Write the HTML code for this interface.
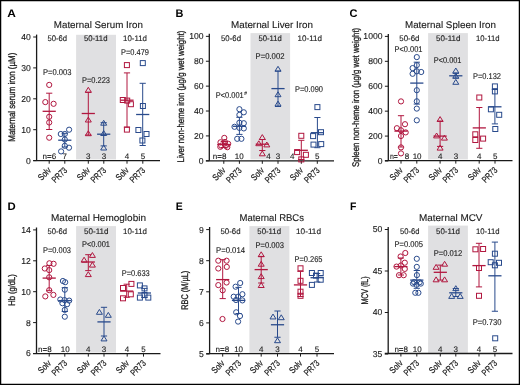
<!DOCTYPE html><html><head><meta charset="utf-8"><style>html,body{margin:0;padding:0;background:#fff;}svg{display:block;will-change:transform;}</style></head><body>
<svg width="520" height="385" viewBox="0 0 520 385" text-rendering="geometricPrecision" font-family='"Liberation Sans", sans-serif'>
<rect x="0" y="0" width="520" height="385" fill="#fff"/>
<rect x="76.1" y="34.8" width="39.9" height="124.6" fill="#e0e0e2"/>
<rect x="250.5" y="33.1" width="39.6" height="126.3" fill="#e0e0e2"/>
<rect x="428.1" y="33.1" width="39.8" height="126.3" fill="#e0e0e2"/>
<rect x="76.1" y="226.1" width="39.9" height="126.5" fill="#e0e0e2"/>
<rect x="249.4" y="226.1" width="40.0" height="126.8" fill="#e0e0e2"/>
<rect x="428.1" y="225.6" width="39.8" height="127.3" fill="#e0e0e2"/>
<text x="7.3" y="16.7" font-size="11" font-weight="bold" fill="#000" textLength="8.6" lengthAdjust="spacingAndGlyphs">A</text>
<text x="175.6" y="16.7" font-size="11" font-weight="bold" fill="#000" textLength="7.9" lengthAdjust="spacingAndGlyphs">B</text>
<text x="349.6" y="16.7" font-size="11" font-weight="bold" fill="#000" textLength="8.0" lengthAdjust="spacingAndGlyphs">C</text>
<text x="7.6" y="209.7" font-size="11" font-weight="bold" fill="#000" textLength="8.2" lengthAdjust="spacingAndGlyphs">D</text>
<text x="175.8" y="209.7" font-size="11" font-weight="bold" fill="#000" textLength="7.0" lengthAdjust="spacingAndGlyphs">E</text>
<text x="350.0" y="209.7" font-size="11" font-weight="bold" fill="#000" textLength="6.4" lengthAdjust="spacingAndGlyphs">F</text>
<text x="53.8" y="27.9" font-size="9.7" textLength="89.2" lengthAdjust="spacingAndGlyphs" fill="#1a1a1a" stroke="#1a1a1a" stroke-width="0.12">Maternal Serum Iron</text>
<text x="231" y="27.6" font-size="9.7" textLength="82" lengthAdjust="spacingAndGlyphs" fill="#1a1a1a" stroke="#1a1a1a" stroke-width="0.12">Maternal Liver Iron</text>
<text x="405" y="27.6" font-size="9.7" textLength="91" lengthAdjust="spacingAndGlyphs" fill="#1a1a1a" stroke="#1a1a1a" stroke-width="0.12">Maternal Spleen Iron</text>
<text x="51" y="221.2" font-size="9.7" textLength="95" lengthAdjust="spacingAndGlyphs" fill="#1a1a1a" stroke="#1a1a1a" stroke-width="0.12">Maternal Hemoglobin</text>
<text x="239.5" y="221.2" font-size="9.7" textLength="64.5" lengthAdjust="spacingAndGlyphs" fill="#1a1a1a" stroke="#1a1a1a" stroke-width="0.12">Maternal RBCs</text>
<text x="419" y="221.2" font-size="9.7" textLength="63.5" lengthAdjust="spacingAndGlyphs" fill="#1a1a1a" stroke="#1a1a1a" stroke-width="0.12">Maternal MCV</text>
<text transform="translate(15.4,141.7) rotate(-90)" x="0" y="0" font-size="9.6" textLength="89" lengthAdjust="spacingAndGlyphs" fill="#1a1a1a" stroke="#1a1a1a" stroke-width="0.3">Maternal serum iron (µM)</text>
<text transform="translate(183.8,162.4) rotate(-90)" x="0" y="0" font-size="9.6" textLength="131.7" lengthAdjust="spacingAndGlyphs" fill="#1a1a1a" stroke="#1a1a1a" stroke-width="0.3">Liver non-heme iron (µg/g wet weight)</text>
<text transform="translate(359,167) rotate(-90)" x="0" y="0" font-size="9.6" textLength="139.2" lengthAdjust="spacingAndGlyphs" fill="#1a1a1a" stroke="#1a1a1a" stroke-width="0.3">Spleen non-heme iron (µg/g wet weight)</text>
<text transform="translate(15.2,305.7) rotate(-90)" x="0" y="0" font-size="9.6" textLength="31.5" lengthAdjust="spacingAndGlyphs" fill="#1a1a1a" stroke="#1a1a1a" stroke-width="0.3">Hb (g/dL)</text>
<text transform="translate(188.4,309.8) rotate(-90)" x="0" y="0" font-size="9.6" textLength="39" lengthAdjust="spacingAndGlyphs" fill="#1a1a1a" stroke="#1a1a1a" stroke-width="0.3">RBC (M/µL)</text>
<text transform="translate(367.6,304.6) rotate(-90)" x="0" y="0" font-size="9.6" textLength="28.2" lengthAdjust="spacingAndGlyphs" fill="#1a1a1a" stroke="#1a1a1a" stroke-width="0.3">MCV (fL)</text>
<text x="47.5" y="41.3" font-size="8.1" textLength="19.6" lengthAdjust="spacingAndGlyphs" fill="#1a1a1a" stroke="#1a1a1a" stroke-width="0.12">50-6d</text>
<text x="83.9" y="41.3" font-size="8.1" textLength="23.6" lengthAdjust="spacingAndGlyphs" fill="#1a1a1a" stroke="#1a1a1a" stroke-width="0.12">50-11d</text>
<text x="123" y="41.3" font-size="8.1" textLength="24" lengthAdjust="spacingAndGlyphs" fill="#1a1a1a" stroke="#1a1a1a" stroke-width="0.12">10-11d</text>
<text x="221" y="40.8" font-size="8.1" textLength="20" lengthAdjust="spacingAndGlyphs" fill="#1a1a1a" stroke="#1a1a1a" stroke-width="0.12">50-6d</text>
<text x="258.5" y="40.8" font-size="8.1" textLength="23.3" lengthAdjust="spacingAndGlyphs" fill="#1a1a1a" stroke="#1a1a1a" stroke-width="0.12">50-11d</text>
<text x="297.5" y="40.8" font-size="8.1" textLength="24.5" lengthAdjust="spacingAndGlyphs" fill="#1a1a1a" stroke="#1a1a1a" stroke-width="0.12">10-11d</text>
<text x="399.3" y="40.8" font-size="8.1" textLength="20.2" lengthAdjust="spacingAndGlyphs" fill="#1a1a1a" stroke="#1a1a1a" stroke-width="0.12">50-6d</text>
<text x="436.1" y="40.8" font-size="8.1" textLength="24.3" lengthAdjust="spacingAndGlyphs" fill="#1a1a1a" stroke="#1a1a1a" stroke-width="0.12">50-11d</text>
<text x="476" y="40.8" font-size="8.1" textLength="23.5" lengthAdjust="spacingAndGlyphs" fill="#1a1a1a" stroke="#1a1a1a" stroke-width="0.12">10-11d</text>
<text x="47.5" y="233.7" font-size="8.1" textLength="19.5" lengthAdjust="spacingAndGlyphs" fill="#1a1a1a" stroke="#1a1a1a" stroke-width="0.12">50-6d</text>
<text x="84" y="233.7" font-size="8.1" textLength="24.5" lengthAdjust="spacingAndGlyphs" fill="#1a1a1a" stroke="#1a1a1a" stroke-width="0.12">50-11d</text>
<text x="123" y="233.7" font-size="8.1" textLength="24" lengthAdjust="spacingAndGlyphs" fill="#1a1a1a" stroke="#1a1a1a" stroke-width="0.12">10-11d</text>
<text x="220.5" y="233.7" font-size="8.1" textLength="20" lengthAdjust="spacingAndGlyphs" fill="#1a1a1a" stroke="#1a1a1a" stroke-width="0.12">50-6d</text>
<text x="257.3" y="233.7" font-size="8.1" textLength="23.7" lengthAdjust="spacingAndGlyphs" fill="#1a1a1a" stroke="#1a1a1a" stroke-width="0.12">50-11d</text>
<text x="296" y="233.7" font-size="8.1" textLength="25" lengthAdjust="spacingAndGlyphs" fill="#1a1a1a" stroke="#1a1a1a" stroke-width="0.12">10-11d</text>
<text x="400" y="233.5" font-size="8.1" textLength="19.5" lengthAdjust="spacingAndGlyphs" fill="#1a1a1a" stroke="#1a1a1a" stroke-width="0.12">50-6d</text>
<text x="436" y="233.5" font-size="8.1" textLength="24" lengthAdjust="spacingAndGlyphs" fill="#1a1a1a" stroke="#1a1a1a" stroke-width="0.12">50-11d</text>
<text x="476" y="233.5" font-size="8.1" textLength="23.5" lengthAdjust="spacingAndGlyphs" fill="#1a1a1a" stroke="#1a1a1a" stroke-width="0.12">10-11d</text>
<text x="43" y="74.9" font-size="8.4" textLength="28.5" lengthAdjust="spacingAndGlyphs" fill="#1a1a1a" stroke="#1a1a1a" stroke-width="0.12">P=0.003</text>
<text x="82" y="82.7" font-size="8.4" textLength="28" lengthAdjust="spacingAndGlyphs" fill="#1a1a1a" stroke="#1a1a1a" stroke-width="0.12">P=0.223</text>
<text x="121" y="54.7" font-size="8.4" textLength="28" lengthAdjust="spacingAndGlyphs" fill="#1a1a1a" stroke="#1a1a1a" stroke-width="0.12">P=0.479</text>
<text x="215.7" y="97.9" font-size="8.4" textLength="28" lengthAdjust="spacingAndGlyphs" fill="#1a1a1a" stroke="#1a1a1a" stroke-width="0.12">P&lt;0.001</text>
<text x="244.2" y="94.6" font-size="5" textLength="2.7" lengthAdjust="spacingAndGlyphs" fill="#1a1a1a" stroke="#1a1a1a" stroke-width="0.12">#</text>
<text x="255.5" y="58.7" font-size="8.4" textLength="29" lengthAdjust="spacingAndGlyphs" fill="#1a1a1a" stroke="#1a1a1a" stroke-width="0.12">P=0.002</text>
<text x="295" y="91.7" font-size="8.4" textLength="28" lengthAdjust="spacingAndGlyphs" fill="#1a1a1a" stroke="#1a1a1a" stroke-width="0.12">P=0.090</text>
<text x="394.5" y="51.7" font-size="8.4" textLength="28" lengthAdjust="spacingAndGlyphs" fill="#1a1a1a" stroke="#1a1a1a" stroke-width="0.12">P&lt;0.001</text>
<text x="433.7" y="63" font-size="8.4" textLength="27.8" lengthAdjust="spacingAndGlyphs" fill="#1a1a1a" stroke="#1a1a1a" stroke-width="0.12">P&lt;0.001</text>
<text x="473" y="78.7" font-size="8.4" textLength="28" lengthAdjust="spacingAndGlyphs" fill="#1a1a1a" stroke="#1a1a1a" stroke-width="0.12">P=0.132</text>
<text x="43" y="252.7" font-size="8.4" textLength="28" lengthAdjust="spacingAndGlyphs" fill="#1a1a1a" stroke="#1a1a1a" stroke-width="0.12">P=0.003</text>
<text x="82" y="247.2" font-size="8.4" textLength="28" lengthAdjust="spacingAndGlyphs" fill="#1a1a1a" stroke="#1a1a1a" stroke-width="0.12">P&lt;0.001</text>
<text x="121.7" y="275.7" font-size="8.4" textLength="28.1" lengthAdjust="spacingAndGlyphs" fill="#1a1a1a" stroke="#1a1a1a" stroke-width="0.12">P=0.633</text>
<text x="216" y="252.7" font-size="8.4" textLength="29" lengthAdjust="spacingAndGlyphs" fill="#1a1a1a" stroke="#1a1a1a" stroke-width="0.12">P=0.014</text>
<text x="255.5" y="247.7" font-size="8.4" textLength="28.5" lengthAdjust="spacingAndGlyphs" fill="#1a1a1a" stroke="#1a1a1a" stroke-width="0.12">P=0.003</text>
<text x="294.5" y="261.7" font-size="8.4" textLength="28" lengthAdjust="spacingAndGlyphs" fill="#1a1a1a" stroke="#1a1a1a" stroke-width="0.12">P=0.265</text>
<text x="394.5" y="246.7" font-size="8.4" textLength="28.5" lengthAdjust="spacingAndGlyphs" fill="#1a1a1a" stroke="#1a1a1a" stroke-width="0.12">P=0.005</text>
<text x="433.7" y="256" font-size="8.4" textLength="28.6" lengthAdjust="spacingAndGlyphs" fill="#1a1a1a" stroke="#1a1a1a" stroke-width="0.12">P=0.012</text>
<text x="472.7" y="325" font-size="8.4" textLength="28.7" lengthAdjust="spacingAndGlyphs" fill="#1a1a1a" stroke="#1a1a1a" stroke-width="0.12">P=0.730</text>
<path d="M36.6 34.6V160.7" stroke="#1a1a1a" stroke-width="1.3" fill="none"/>
<path d="M33.2 160.7H160" stroke="#1a1a1a" stroke-width="1.3" fill="none"/>
<path d="M33.2 160.6H36.6" stroke="#1a1a1a" stroke-width="1" fill="none"/>
<text x="26.02" y="163.5" font-size="8.6" textLength="4.78" lengthAdjust="spacingAndGlyphs" fill="#1a1a1a" stroke="#1a1a1a" stroke-width="0.12">0</text>
<path d="M33.2 129.7H36.6" stroke="#1a1a1a" stroke-width="1" fill="none"/>
<text x="21.24" y="132.6" font-size="8.6" textLength="9.56" lengthAdjust="spacingAndGlyphs" fill="#1a1a1a" stroke="#1a1a1a" stroke-width="0.12">10</text>
<path d="M33.2 98.8H36.6" stroke="#1a1a1a" stroke-width="1" fill="none"/>
<text x="21.24" y="101.7" font-size="8.6" textLength="9.56" lengthAdjust="spacingAndGlyphs" fill="#1a1a1a" stroke="#1a1a1a" stroke-width="0.12">20</text>
<path d="M33.2 67.9H36.6" stroke="#1a1a1a" stroke-width="1" fill="none"/>
<text x="21.24" y="70.8" font-size="8.6" textLength="9.56" lengthAdjust="spacingAndGlyphs" fill="#1a1a1a" stroke="#1a1a1a" stroke-width="0.12">30</text>
<path d="M33.2 37H36.6" stroke="#1a1a1a" stroke-width="1" fill="none"/>
<text x="21.24" y="39.9" font-size="8.6" textLength="9.56" lengthAdjust="spacingAndGlyphs" fill="#1a1a1a" stroke="#1a1a1a" stroke-width="0.12">40</text>
<path d="M209.3 33.8V160.8" stroke="#1a1a1a" stroke-width="1.3" fill="none"/>
<path d="M205.9 160.8H334" stroke="#1a1a1a" stroke-width="1.3" fill="none"/>
<path d="M205.9 160.8H209.3" stroke="#1a1a1a" stroke-width="1" fill="none"/>
<text x="198.72" y="163.7" font-size="8.6" textLength="4.78" lengthAdjust="spacingAndGlyphs" fill="#1a1a1a" stroke="#1a1a1a" stroke-width="0.12">0</text>
<path d="M205.9 135.91H209.3" stroke="#1a1a1a" stroke-width="1" fill="none"/>
<text x="193.94" y="138.81" font-size="8.6" textLength="9.56" lengthAdjust="spacingAndGlyphs" fill="#1a1a1a" stroke="#1a1a1a" stroke-width="0.12">20</text>
<path d="M205.9 111.02H209.3" stroke="#1a1a1a" stroke-width="1" fill="none"/>
<text x="193.94" y="113.92" font-size="8.6" textLength="9.56" lengthAdjust="spacingAndGlyphs" fill="#1a1a1a" stroke="#1a1a1a" stroke-width="0.12">40</text>
<path d="M205.9 86.13H209.3" stroke="#1a1a1a" stroke-width="1" fill="none"/>
<text x="193.94" y="89.03" font-size="8.6" textLength="9.56" lengthAdjust="spacingAndGlyphs" fill="#1a1a1a" stroke="#1a1a1a" stroke-width="0.12">60</text>
<path d="M205.9 61.24H209.3" stroke="#1a1a1a" stroke-width="1" fill="none"/>
<text x="193.94" y="64.14" font-size="8.6" textLength="9.56" lengthAdjust="spacingAndGlyphs" fill="#1a1a1a" stroke="#1a1a1a" stroke-width="0.12">80</text>
<path d="M205.9 36.35H209.3" stroke="#1a1a1a" stroke-width="1" fill="none"/>
<text x="189.16" y="39.25" font-size="8.6" textLength="14.34" lengthAdjust="spacingAndGlyphs" fill="#1a1a1a" stroke="#1a1a1a" stroke-width="0.12">100</text>
<path d="M388.3 34V160.6" stroke="#1a1a1a" stroke-width="1.3" fill="none"/>
<path d="M384.9 160.6H512.5" stroke="#1a1a1a" stroke-width="1.3" fill="none"/>
<path d="M384.9 161H388.3" stroke="#1a1a1a" stroke-width="1" fill="none"/>
<text x="377.72" y="163.9" font-size="8.6" textLength="4.78" lengthAdjust="spacingAndGlyphs" fill="#1a1a1a" stroke="#1a1a1a" stroke-width="0.12">0</text>
<path d="M384.9 136.08H388.3" stroke="#1a1a1a" stroke-width="1" fill="none"/>
<text x="368.16" y="138.98" font-size="8.6" textLength="14.34" lengthAdjust="spacingAndGlyphs" fill="#1a1a1a" stroke="#1a1a1a" stroke-width="0.12">200</text>
<path d="M384.9 111.16H388.3" stroke="#1a1a1a" stroke-width="1" fill="none"/>
<text x="368.16" y="114.06" font-size="8.6" textLength="14.34" lengthAdjust="spacingAndGlyphs" fill="#1a1a1a" stroke="#1a1a1a" stroke-width="0.12">400</text>
<path d="M384.9 86.24H388.3" stroke="#1a1a1a" stroke-width="1" fill="none"/>
<text x="368.16" y="89.14" font-size="8.6" textLength="14.34" lengthAdjust="spacingAndGlyphs" fill="#1a1a1a" stroke="#1a1a1a" stroke-width="0.12">600</text>
<path d="M384.9 61.32H388.3" stroke="#1a1a1a" stroke-width="1" fill="none"/>
<text x="368.16" y="64.22" font-size="8.6" textLength="14.34" lengthAdjust="spacingAndGlyphs" fill="#1a1a1a" stroke="#1a1a1a" stroke-width="0.12">800</text>
<path d="M384.9 36.4H388.3" stroke="#1a1a1a" stroke-width="1" fill="none"/>
<text x="363.37" y="39.3" font-size="8.6" textLength="19.13" lengthAdjust="spacingAndGlyphs" fill="#1a1a1a" stroke="#1a1a1a" stroke-width="0.12">1000</text>
<path d="M36.5 227.5V353.7" stroke="#1a1a1a" stroke-width="1.3" fill="none"/>
<path d="M33.1 353.7H160.5" stroke="#1a1a1a" stroke-width="1.3" fill="none"/>
<path d="M33.1 353.5H36.5" stroke="#1a1a1a" stroke-width="1" fill="none"/>
<text x="25.92" y="356.4" font-size="8.6" textLength="4.78" lengthAdjust="spacingAndGlyphs" fill="#1a1a1a" stroke="#1a1a1a" stroke-width="0.12">6</text>
<path d="M33.1 322.6H36.5" stroke="#1a1a1a" stroke-width="1" fill="none"/>
<text x="25.92" y="325.5" font-size="8.6" textLength="4.78" lengthAdjust="spacingAndGlyphs" fill="#1a1a1a" stroke="#1a1a1a" stroke-width="0.12">8</text>
<path d="M33.1 291.7H36.5" stroke="#1a1a1a" stroke-width="1" fill="none"/>
<text x="21.14" y="294.6" font-size="8.6" textLength="9.56" lengthAdjust="spacingAndGlyphs" fill="#1a1a1a" stroke="#1a1a1a" stroke-width="0.12">10</text>
<path d="M33.1 260.8H36.5" stroke="#1a1a1a" stroke-width="1" fill="none"/>
<text x="21.14" y="263.7" font-size="8.6" textLength="9.56" lengthAdjust="spacingAndGlyphs" fill="#1a1a1a" stroke="#1a1a1a" stroke-width="0.12">12</text>
<path d="M33.1 229.9H36.5" stroke="#1a1a1a" stroke-width="1" fill="none"/>
<text x="21.14" y="232.8" font-size="8.6" textLength="9.56" lengthAdjust="spacingAndGlyphs" fill="#1a1a1a" stroke="#1a1a1a" stroke-width="0.12">14</text>
<path d="M209.6 227V353.6" stroke="#1a1a1a" stroke-width="1.3" fill="none"/>
<path d="M206.2 353.6H334" stroke="#1a1a1a" stroke-width="1.3" fill="none"/>
<path d="M206.2 354H209.6" stroke="#1a1a1a" stroke-width="1" fill="none"/>
<text x="199.02" y="356.9" font-size="8.6" textLength="4.78" lengthAdjust="spacingAndGlyphs" fill="#1a1a1a" stroke="#1a1a1a" stroke-width="0.12">5</text>
<path d="M206.2 322.9H209.6" stroke="#1a1a1a" stroke-width="1" fill="none"/>
<text x="199.02" y="325.8" font-size="8.6" textLength="4.78" lengthAdjust="spacingAndGlyphs" fill="#1a1a1a" stroke="#1a1a1a" stroke-width="0.12">6</text>
<path d="M206.2 291.8H209.6" stroke="#1a1a1a" stroke-width="1" fill="none"/>
<text x="199.02" y="294.7" font-size="8.6" textLength="4.78" lengthAdjust="spacingAndGlyphs" fill="#1a1a1a" stroke="#1a1a1a" stroke-width="0.12">7</text>
<path d="M206.2 260.7H209.6" stroke="#1a1a1a" stroke-width="1" fill="none"/>
<text x="199.02" y="263.6" font-size="8.6" textLength="4.78" lengthAdjust="spacingAndGlyphs" fill="#1a1a1a" stroke="#1a1a1a" stroke-width="0.12">8</text>
<path d="M206.2 229.6H209.6" stroke="#1a1a1a" stroke-width="1" fill="none"/>
<text x="199.02" y="232.5" font-size="8.6" textLength="4.78" lengthAdjust="spacingAndGlyphs" fill="#1a1a1a" stroke="#1a1a1a" stroke-width="0.12">9</text>
<path d="M388.2 227V353.5" stroke="#1a1a1a" stroke-width="1.3" fill="none"/>
<path d="M384.8 353.5H512.5" stroke="#1a1a1a" stroke-width="1.3" fill="none"/>
<path d="M384.8 354H388.2" stroke="#1a1a1a" stroke-width="1" fill="none"/>
<text x="372.84" y="356.9" font-size="8.6" textLength="9.56" lengthAdjust="spacingAndGlyphs" fill="#1a1a1a" stroke="#1a1a1a" stroke-width="0.12">35</text>
<path d="M384.8 312.5H388.2" stroke="#1a1a1a" stroke-width="1" fill="none"/>
<text x="372.84" y="315.4" font-size="8.6" textLength="9.56" lengthAdjust="spacingAndGlyphs" fill="#1a1a1a" stroke="#1a1a1a" stroke-width="0.12">40</text>
<path d="M384.8 271H388.2" stroke="#1a1a1a" stroke-width="1" fill="none"/>
<text x="372.84" y="273.9" font-size="8.6" textLength="9.56" lengthAdjust="spacingAndGlyphs" fill="#1a1a1a" stroke="#1a1a1a" stroke-width="0.12">45</text>
<path d="M384.8 229.5H388.2" stroke="#1a1a1a" stroke-width="1" fill="none"/>
<text x="372.84" y="232.4" font-size="8.6" textLength="9.56" lengthAdjust="spacingAndGlyphs" fill="#1a1a1a" stroke="#1a1a1a" stroke-width="0.12">50</text>
<path d="M49.2 160.7V163.7M64.8 160.7V163.7M88.3 160.7V163.7M103.8 160.7V163.7M127 160.7V163.7M142.8 160.7V163.7" stroke="#1a1a1a" stroke-width="1" fill="none"/>
<text transform="translate(51.6,170.9) rotate(-45)" x="-14.4" y="0" font-size="9" textLength="14.4" lengthAdjust="spacingAndGlyphs" fill="#1a1a1a" stroke="#1a1a1a" stroke-width="0.22">Solv</text>
<text transform="translate(67.7,170.9) rotate(-45)" x="-17.6" y="0" font-size="9" textLength="17.6" lengthAdjust="spacingAndGlyphs" fill="#1a1a1a" stroke="#1a1a1a" stroke-width="0.22">PR73</text>
<text transform="translate(90.7,170.9) rotate(-45)" x="-14.4" y="0" font-size="9" textLength="14.4" lengthAdjust="spacingAndGlyphs" fill="#1a1a1a" stroke="#1a1a1a" stroke-width="0.22">Solv</text>
<text transform="translate(106.7,170.9) rotate(-45)" x="-17.6" y="0" font-size="9" textLength="17.6" lengthAdjust="spacingAndGlyphs" fill="#1a1a1a" stroke="#1a1a1a" stroke-width="0.22">PR73</text>
<text transform="translate(129.4,170.9) rotate(-45)" x="-14.4" y="0" font-size="9" textLength="14.4" lengthAdjust="spacingAndGlyphs" fill="#1a1a1a" stroke="#1a1a1a" stroke-width="0.22">Solv</text>
<text transform="translate(145.7,170.9) rotate(-45)" x="-17.6" y="0" font-size="9" textLength="17.6" lengthAdjust="spacingAndGlyphs" fill="#1a1a1a" stroke="#1a1a1a" stroke-width="0.22">PR73</text>
<path d="M223.8 160.8V163.8M239.4 160.8V163.8M262.3 160.8V163.8M278 160.8V163.8M301.3 160.8V163.8M317.3 160.8V163.8" stroke="#1a1a1a" stroke-width="1" fill="none"/>
<text transform="translate(226.2,171) rotate(-45)" x="-14.4" y="0" font-size="9" textLength="14.4" lengthAdjust="spacingAndGlyphs" fill="#1a1a1a" stroke="#1a1a1a" stroke-width="0.22">Solv</text>
<text transform="translate(242.3,171) rotate(-45)" x="-17.6" y="0" font-size="9" textLength="17.6" lengthAdjust="spacingAndGlyphs" fill="#1a1a1a" stroke="#1a1a1a" stroke-width="0.22">PR73</text>
<text transform="translate(264.7,171) rotate(-45)" x="-14.4" y="0" font-size="9" textLength="14.4" lengthAdjust="spacingAndGlyphs" fill="#1a1a1a" stroke="#1a1a1a" stroke-width="0.22">Solv</text>
<text transform="translate(280.9,171) rotate(-45)" x="-17.6" y="0" font-size="9" textLength="17.6" lengthAdjust="spacingAndGlyphs" fill="#1a1a1a" stroke="#1a1a1a" stroke-width="0.22">PR73</text>
<text transform="translate(303.7,171) rotate(-45)" x="-14.4" y="0" font-size="9" textLength="14.4" lengthAdjust="spacingAndGlyphs" fill="#1a1a1a" stroke="#1a1a1a" stroke-width="0.22">Solv</text>
<text transform="translate(320.2,171) rotate(-45)" x="-17.6" y="0" font-size="9" textLength="17.6" lengthAdjust="spacingAndGlyphs" fill="#1a1a1a" stroke="#1a1a1a" stroke-width="0.22">PR73</text>
<path d="M401 160.6V163.6M416.8 160.6V163.6M440.1 160.6V163.6M455.8 160.6V163.6M479.2 160.6V163.6M495 160.6V163.6" stroke="#1a1a1a" stroke-width="1" fill="none"/>
<text transform="translate(403.4,170.8) rotate(-45)" x="-14.4" y="0" font-size="9" textLength="14.4" lengthAdjust="spacingAndGlyphs" fill="#1a1a1a" stroke="#1a1a1a" stroke-width="0.22">Solv</text>
<text transform="translate(419.7,170.8) rotate(-45)" x="-17.6" y="0" font-size="9" textLength="17.6" lengthAdjust="spacingAndGlyphs" fill="#1a1a1a" stroke="#1a1a1a" stroke-width="0.22">PR73</text>
<text transform="translate(442.5,170.8) rotate(-45)" x="-14.4" y="0" font-size="9" textLength="14.4" lengthAdjust="spacingAndGlyphs" fill="#1a1a1a" stroke="#1a1a1a" stroke-width="0.22">Solv</text>
<text transform="translate(458.7,170.8) rotate(-45)" x="-17.6" y="0" font-size="9" textLength="17.6" lengthAdjust="spacingAndGlyphs" fill="#1a1a1a" stroke="#1a1a1a" stroke-width="0.22">PR73</text>
<text transform="translate(481.6,170.8) rotate(-45)" x="-14.4" y="0" font-size="9" textLength="14.4" lengthAdjust="spacingAndGlyphs" fill="#1a1a1a" stroke="#1a1a1a" stroke-width="0.22">Solv</text>
<text transform="translate(497.9,170.8) rotate(-45)" x="-17.6" y="0" font-size="9" textLength="17.6" lengthAdjust="spacingAndGlyphs" fill="#1a1a1a" stroke="#1a1a1a" stroke-width="0.22">PR73</text>
<path d="M49.2 353.6V356.6M64.8 353.6V356.6M88.3 353.6V356.6M104 353.6V356.6M127.2 353.6V356.6M143.5 353.6V356.6" stroke="#1a1a1a" stroke-width="1" fill="none"/>
<text transform="translate(51.6,363.8) rotate(-45)" x="-14.4" y="0" font-size="9" textLength="14.4" lengthAdjust="spacingAndGlyphs" fill="#1a1a1a" stroke="#1a1a1a" stroke-width="0.22">Solv</text>
<text transform="translate(67.7,363.8) rotate(-45)" x="-17.6" y="0" font-size="9" textLength="17.6" lengthAdjust="spacingAndGlyphs" fill="#1a1a1a" stroke="#1a1a1a" stroke-width="0.22">PR73</text>
<text transform="translate(90.7,363.8) rotate(-45)" x="-14.4" y="0" font-size="9" textLength="14.4" lengthAdjust="spacingAndGlyphs" fill="#1a1a1a" stroke="#1a1a1a" stroke-width="0.22">Solv</text>
<text transform="translate(106.9,363.8) rotate(-45)" x="-17.6" y="0" font-size="9" textLength="17.6" lengthAdjust="spacingAndGlyphs" fill="#1a1a1a" stroke="#1a1a1a" stroke-width="0.22">PR73</text>
<text transform="translate(129.6,363.8) rotate(-45)" x="-14.4" y="0" font-size="9" textLength="14.4" lengthAdjust="spacingAndGlyphs" fill="#1a1a1a" stroke="#1a1a1a" stroke-width="0.22">Solv</text>
<text transform="translate(146.4,363.8) rotate(-45)" x="-17.6" y="0" font-size="9" textLength="17.6" lengthAdjust="spacingAndGlyphs" fill="#1a1a1a" stroke="#1a1a1a" stroke-width="0.22">PR73</text>
<path d="M222.7 353.6V356.6M238.8 353.6V356.6M261.2 353.6V356.6M277.5 353.6V356.6M300.5 353.6V356.6M317 353.6V356.6" stroke="#1a1a1a" stroke-width="1" fill="none"/>
<text transform="translate(225.1,363.8) rotate(-45)" x="-14.4" y="0" font-size="9" textLength="14.4" lengthAdjust="spacingAndGlyphs" fill="#1a1a1a" stroke="#1a1a1a" stroke-width="0.22">Solv</text>
<text transform="translate(241.7,363.8) rotate(-45)" x="-17.6" y="0" font-size="9" textLength="17.6" lengthAdjust="spacingAndGlyphs" fill="#1a1a1a" stroke="#1a1a1a" stroke-width="0.22">PR73</text>
<text transform="translate(263.6,363.8) rotate(-45)" x="-14.4" y="0" font-size="9" textLength="14.4" lengthAdjust="spacingAndGlyphs" fill="#1a1a1a" stroke="#1a1a1a" stroke-width="0.22">Solv</text>
<text transform="translate(280.4,363.8) rotate(-45)" x="-17.6" y="0" font-size="9" textLength="17.6" lengthAdjust="spacingAndGlyphs" fill="#1a1a1a" stroke="#1a1a1a" stroke-width="0.22">PR73</text>
<text transform="translate(302.9,363.8) rotate(-45)" x="-14.4" y="0" font-size="9" textLength="14.4" lengthAdjust="spacingAndGlyphs" fill="#1a1a1a" stroke="#1a1a1a" stroke-width="0.22">Solv</text>
<text transform="translate(319.9,363.8) rotate(-45)" x="-17.6" y="0" font-size="9" textLength="17.6" lengthAdjust="spacingAndGlyphs" fill="#1a1a1a" stroke="#1a1a1a" stroke-width="0.22">PR73</text>
<path d="M400.9 353.5V356.5M416.8 353.5V356.5M440.3 353.5V356.5M455.8 353.5V356.5M479 353.5V356.5M494.9 353.5V356.5" stroke="#1a1a1a" stroke-width="1" fill="none"/>
<text transform="translate(403.3,363.7) rotate(-45)" x="-14.4" y="0" font-size="9" textLength="14.4" lengthAdjust="spacingAndGlyphs" fill="#1a1a1a" stroke="#1a1a1a" stroke-width="0.22">Solv</text>
<text transform="translate(419.7,363.7) rotate(-45)" x="-17.6" y="0" font-size="9" textLength="17.6" lengthAdjust="spacingAndGlyphs" fill="#1a1a1a" stroke="#1a1a1a" stroke-width="0.22">PR73</text>
<text transform="translate(442.7,363.7) rotate(-45)" x="-14.4" y="0" font-size="9" textLength="14.4" lengthAdjust="spacingAndGlyphs" fill="#1a1a1a" stroke="#1a1a1a" stroke-width="0.22">Solv</text>
<text transform="translate(458.7,363.7) rotate(-45)" x="-17.6" y="0" font-size="9" textLength="17.6" lengthAdjust="spacingAndGlyphs" fill="#1a1a1a" stroke="#1a1a1a" stroke-width="0.22">PR73</text>
<text transform="translate(481.4,363.7) rotate(-45)" x="-14.4" y="0" font-size="9" textLength="14.4" lengthAdjust="spacingAndGlyphs" fill="#1a1a1a" stroke="#1a1a1a" stroke-width="0.22">Solv</text>
<text transform="translate(497.8,363.7) rotate(-45)" x="-17.6" y="0" font-size="9" textLength="17.6" lengthAdjust="spacingAndGlyphs" fill="#1a1a1a" stroke="#1a1a1a" stroke-width="0.22">PR73</text>
<text x="42.5" y="158.6" font-size="8" textLength="13.6" lengthAdjust="spacingAndGlyphs" fill="#1a1a1a" stroke="#1a1a1a" stroke-width="0.12">n=6</text>
<text x="62.38" y="158.6" font-size="8" textLength="4.45" lengthAdjust="spacingAndGlyphs" fill="#1a1a1a" stroke="#1a1a1a" stroke-width="0.12">7</text>
<text x="86.08" y="158.6" font-size="8" textLength="4.45" lengthAdjust="spacingAndGlyphs" fill="#1a1a1a" stroke="#1a1a1a" stroke-width="0.12">3</text>
<text x="101.78" y="158.6" font-size="8" textLength="4.45" lengthAdjust="spacingAndGlyphs" fill="#1a1a1a" stroke="#1a1a1a" stroke-width="0.12">3</text>
<text x="124.78" y="158.6" font-size="8" textLength="4.45" lengthAdjust="spacingAndGlyphs" fill="#1a1a1a" stroke="#1a1a1a" stroke-width="0.12">4</text>
<text x="140.78" y="158.6" font-size="8" textLength="4.45" lengthAdjust="spacingAndGlyphs" fill="#1a1a1a" stroke="#1a1a1a" stroke-width="0.12">5</text>
<text x="212.8" y="158.6" font-size="8" textLength="13.6" lengthAdjust="spacingAndGlyphs" fill="#1a1a1a" stroke="#1a1a1a" stroke-width="0.12">n=8</text>
<text x="234.85" y="158.6" font-size="8" textLength="8.9" lengthAdjust="spacingAndGlyphs" fill="#1a1a1a" stroke="#1a1a1a" stroke-width="0.12">10</text>
<text x="266.28" y="158.6" font-size="8" textLength="4.45" lengthAdjust="spacingAndGlyphs" fill="#1a1a1a" stroke="#1a1a1a" stroke-width="0.12">4</text>
<text x="275.78" y="158.6" font-size="8" textLength="4.45" lengthAdjust="spacingAndGlyphs" fill="#1a1a1a" stroke="#1a1a1a" stroke-width="0.12">3</text>
<text x="289.98" y="158.6" font-size="8" textLength="4.45" lengthAdjust="spacingAndGlyphs" fill="#1a1a1a" stroke="#1a1a1a" stroke-width="0.12">4</text>
<text x="314.88" y="158.6" font-size="8" textLength="4.45" lengthAdjust="spacingAndGlyphs" fill="#1a1a1a" stroke="#1a1a1a" stroke-width="0.12">5</text>
<text x="390" y="158.6" font-size="8" textLength="7.9" lengthAdjust="spacingAndGlyphs" fill="#1a1a1a" stroke="#1a1a1a" stroke-width="0.12">n=</text>
<text x="404.68" y="158.6" font-size="8" textLength="4.45" lengthAdjust="spacingAndGlyphs" fill="#1a1a1a" stroke="#1a1a1a" stroke-width="0.12">8</text>
<text x="412.65" y="158.6" font-size="8" textLength="8.9" lengthAdjust="spacingAndGlyphs" fill="#1a1a1a" stroke="#1a1a1a" stroke-width="0.12">10</text>
<text x="437.88" y="158.6" font-size="8" textLength="4.45" lengthAdjust="spacingAndGlyphs" fill="#1a1a1a" stroke="#1a1a1a" stroke-width="0.12">4</text>
<text x="453.68" y="158.6" font-size="8" textLength="4.45" lengthAdjust="spacingAndGlyphs" fill="#1a1a1a" stroke="#1a1a1a" stroke-width="0.12">3</text>
<text x="476.88" y="158.6" font-size="8" textLength="4.45" lengthAdjust="spacingAndGlyphs" fill="#1a1a1a" stroke="#1a1a1a" stroke-width="0.12">4</text>
<text x="493.08" y="158.6" font-size="8" textLength="4.45" lengthAdjust="spacingAndGlyphs" fill="#1a1a1a" stroke="#1a1a1a" stroke-width="0.12">5</text>
<text x="38.1" y="351.8" font-size="8" textLength="13.6" lengthAdjust="spacingAndGlyphs" fill="#1a1a1a" stroke="#1a1a1a" stroke-width="0.12">n=8</text>
<text x="60.85" y="351.8" font-size="8" textLength="8.9" lengthAdjust="spacingAndGlyphs" fill="#1a1a1a" stroke="#1a1a1a" stroke-width="0.12">10</text>
<text x="86.08" y="351.8" font-size="8" textLength="4.45" lengthAdjust="spacingAndGlyphs" fill="#1a1a1a" stroke="#1a1a1a" stroke-width="0.12">4</text>
<text x="101.78" y="351.8" font-size="8" textLength="4.45" lengthAdjust="spacingAndGlyphs" fill="#1a1a1a" stroke="#1a1a1a" stroke-width="0.12">3</text>
<text x="124.78" y="351.8" font-size="8" textLength="4.45" lengthAdjust="spacingAndGlyphs" fill="#1a1a1a" stroke="#1a1a1a" stroke-width="0.12">4</text>
<text x="141.28" y="351.8" font-size="8" textLength="4.45" lengthAdjust="spacingAndGlyphs" fill="#1a1a1a" stroke="#1a1a1a" stroke-width="0.12">5</text>
<text x="215.6" y="351.9" font-size="8" textLength="13.6" lengthAdjust="spacingAndGlyphs" fill="#1a1a1a" stroke="#1a1a1a" stroke-width="0.12">n=8</text>
<text x="234.15" y="351.9" font-size="8" textLength="8.9" lengthAdjust="spacingAndGlyphs" fill="#1a1a1a" stroke="#1a1a1a" stroke-width="0.12">10</text>
<text x="258.98" y="351.9" font-size="8" textLength="4.45" lengthAdjust="spacingAndGlyphs" fill="#1a1a1a" stroke="#1a1a1a" stroke-width="0.12">4</text>
<text x="275.28" y="351.9" font-size="8" textLength="4.45" lengthAdjust="spacingAndGlyphs" fill="#1a1a1a" stroke="#1a1a1a" stroke-width="0.12">3</text>
<text x="298.28" y="351.9" font-size="8" textLength="4.45" lengthAdjust="spacingAndGlyphs" fill="#1a1a1a" stroke="#1a1a1a" stroke-width="0.12">4</text>
<text x="314.78" y="351.9" font-size="8" textLength="4.45" lengthAdjust="spacingAndGlyphs" fill="#1a1a1a" stroke="#1a1a1a" stroke-width="0.12">5</text>
<text x="394.4" y="351.9" font-size="8" textLength="13.6" lengthAdjust="spacingAndGlyphs" fill="#1a1a1a" stroke="#1a1a1a" stroke-width="0.12">n=8</text>
<text x="412.85" y="351.9" font-size="8" textLength="8.9" lengthAdjust="spacingAndGlyphs" fill="#1a1a1a" stroke="#1a1a1a" stroke-width="0.12">10</text>
<text x="438.08" y="351.9" font-size="8" textLength="4.45" lengthAdjust="spacingAndGlyphs" fill="#1a1a1a" stroke="#1a1a1a" stroke-width="0.12">4</text>
<text x="453.58" y="351.9" font-size="8" textLength="4.45" lengthAdjust="spacingAndGlyphs" fill="#1a1a1a" stroke="#1a1a1a" stroke-width="0.12">3</text>
<text x="476.78" y="351.9" font-size="8" textLength="4.45" lengthAdjust="spacingAndGlyphs" fill="#1a1a1a" stroke="#1a1a1a" stroke-width="0.12">4</text>
<text x="492.68" y="351.9" font-size="8" textLength="4.45" lengthAdjust="spacingAndGlyphs" fill="#1a1a1a" stroke="#1a1a1a" stroke-width="0.12">5</text>
<path d="M49.2 93.2V129.5M46.1 93.2H52.3M46.1 129.5H52.3" stroke="#b1173f" stroke-width="1" fill="none"/>
<path d="M42.6 111.3H55.8" stroke="#b1173f" stroke-width="1.3" fill="none"/>
<circle cx="49.2" cy="84.9" r="2.6" fill="none" stroke="#b1173f" stroke-width="1.0"/>
<circle cx="45.3" cy="102.1" r="2.6" fill="none" stroke="#b1173f" stroke-width="1.0"/>
<circle cx="53.6" cy="103.8" r="2.6" fill="none" stroke="#b1173f" stroke-width="1.0"/>
<circle cx="49.2" cy="116.8" r="2.6" fill="none" stroke="#b1173f" stroke-width="1.0"/>
<circle cx="49.2" cy="122.5" r="2.6" fill="none" stroke="#b1173f" stroke-width="1.0"/>
<circle cx="49.2" cy="137.7" r="2.6" fill="none" stroke="#b1173f" stroke-width="1.0"/>
<path d="M64.8 133.3V147M61.7 133.3H67.9M61.7 147H67.9" stroke="#294a8c" stroke-width="1" fill="none"/>
<path d="M58.2 140.2H71.4" stroke="#294a8c" stroke-width="1.3" fill="none"/>
<circle cx="69.1" cy="129.7" r="2.6" fill="none" stroke="#294a8c" stroke-width="1.0"/>
<circle cx="60.8" cy="134" r="2.6" fill="none" stroke="#294a8c" stroke-width="1.0"/>
<circle cx="64.8" cy="134" r="2.6" fill="none" stroke="#294a8c" stroke-width="1.0"/>
<circle cx="64.8" cy="139.5" r="2.6" fill="none" stroke="#294a8c" stroke-width="1.0"/>
<circle cx="64.8" cy="145.8" r="2.6" fill="none" stroke="#294a8c" stroke-width="1.0"/>
<circle cx="69" cy="147.7" r="2.6" fill="none" stroke="#294a8c" stroke-width="1.0"/>
<circle cx="61.1" cy="151.4" r="2.6" fill="none" stroke="#294a8c" stroke-width="1.0"/>
<path d="M88.3 92.4V135M85.2 92.4H91.4M85.2 135H91.4" stroke="#b1173f" stroke-width="1" fill="none"/>
<path d="M81.7 113.5H94.9" stroke="#b1173f" stroke-width="1.3" fill="none"/>
<path d="M88.3 87.3L91.3 92.2L85.3 92.2Z" fill="none" stroke="#b1173f" stroke-width="1.0" stroke-linejoin="miter"/>
<path d="M88.3 117.1L91.3 122L85.3 122Z" fill="none" stroke="#b1173f" stroke-width="1.0" stroke-linejoin="miter"/>
<path d="M88.3 130.8L91.3 135.7L85.3 135.7Z" fill="none" stroke="#b1173f" stroke-width="1.0" stroke-linejoin="miter"/>
<path d="M103.7 122.7V145.9M100.6 122.7H106.8M100.6 145.9H106.8" stroke="#294a8c" stroke-width="1" fill="none"/>
<path d="M97.1 134.2H110.3" stroke="#294a8c" stroke-width="1.3" fill="none"/>
<path d="M103.7 120.3L106.7 125.2L100.7 125.2Z" fill="none" stroke="#294a8c" stroke-width="1.0" stroke-linejoin="miter"/>
<path d="M103.7 130.6L106.7 135.5L100.7 135.5Z" fill="none" stroke="#294a8c" stroke-width="1.0" stroke-linejoin="miter"/>
<path d="M103.7 145.1L106.7 150L100.7 150Z" fill="none" stroke="#294a8c" stroke-width="1.0" stroke-linejoin="miter"/>
<path d="M127 72.9V127.2M123.9 72.9H130.1M123.9 127.2H130.1" stroke="#b1173f" stroke-width="1" fill="none"/>
<path d="M120.4 100.2H133.6" stroke="#b1173f" stroke-width="1.3" fill="none"/>
<rect x="124.4" y="62.6" width="5" height="5" fill="none" stroke="#b1173f" stroke-width="1.0"/>
<rect x="120.3" y="97.5" width="5" height="5" fill="none" stroke="#b1173f" stroke-width="1.0"/>
<rect x="124.7" y="98.1" width="5" height="5" fill="none" stroke="#b1173f" stroke-width="1.0"/>
<rect x="128.4" y="101.7" width="5" height="5" fill="none" stroke="#b1173f" stroke-width="1.0"/>
<rect x="124.4" y="127.1" width="5" height="5" fill="none" stroke="#b1173f" stroke-width="1.0"/>
<path d="M142.7 83.3V145.5M139.6 83.3H145.8M139.6 145.5H145.8" stroke="#294a8c" stroke-width="1" fill="none"/>
<path d="M136.1 114.5H149.3" stroke="#294a8c" stroke-width="1.3" fill="none"/>
<rect x="140.3" y="60.6" width="5" height="5" fill="none" stroke="#294a8c" stroke-width="1.0"/>
<rect x="140.4" y="103.5" width="5" height="5" fill="none" stroke="#294a8c" stroke-width="1.0"/>
<rect x="135.9" y="127.5" width="5" height="5" fill="none" stroke="#294a8c" stroke-width="1.0"/>
<rect x="144" y="131.5" width="5" height="5" fill="none" stroke="#294a8c" stroke-width="1.0"/>
<rect x="139.9" y="138" width="5" height="5" fill="none" stroke="#294a8c" stroke-width="1.0"/>
<path d="M223.8 141.5V147.5M220.7 141.5H226.9M220.7 147.5H226.9" stroke="#b1173f" stroke-width="1" fill="none"/>
<path d="M217.2 144.5H230.4" stroke="#b1173f" stroke-width="1.3" fill="none"/>
<circle cx="224.3" cy="137.9" r="2.6" fill="none" stroke="#b1173f" stroke-width="1.0"/>
<circle cx="220.5" cy="142.3" r="2.6" fill="none" stroke="#b1173f" stroke-width="1.0"/>
<circle cx="225" cy="142" r="2.6" fill="none" stroke="#b1173f" stroke-width="1.0"/>
<circle cx="228.2" cy="143.8" r="2.6" fill="none" stroke="#b1173f" stroke-width="1.0"/>
<circle cx="221.3" cy="145.6" r="2.6" fill="none" stroke="#b1173f" stroke-width="1.0"/>
<circle cx="225.8" cy="145.8" r="2.6" fill="none" stroke="#b1173f" stroke-width="1.0"/>
<circle cx="220.3" cy="146.8" r="2.6" fill="none" stroke="#b1173f" stroke-width="1.0"/>
<circle cx="227.3" cy="147.2" r="2.6" fill="none" stroke="#b1173f" stroke-width="1.0"/>
<path d="M239.4 117.3V134.4M236.3 117.3H242.5M236.3 134.4H242.5" stroke="#294a8c" stroke-width="1" fill="none"/>
<path d="M232.8 126.3H246" stroke="#294a8c" stroke-width="1.3" fill="none"/>
<circle cx="239.4" cy="109.2" r="2.6" fill="none" stroke="#294a8c" stroke-width="1.0"/>
<circle cx="243.8" cy="112.3" r="2.6" fill="none" stroke="#294a8c" stroke-width="1.0"/>
<circle cx="239.4" cy="114.9" r="2.6" fill="none" stroke="#294a8c" stroke-width="1.0"/>
<circle cx="239.4" cy="122.7" r="2.6" fill="none" stroke="#294a8c" stroke-width="1.0"/>
<circle cx="243.8" cy="123.2" r="2.6" fill="none" stroke="#294a8c" stroke-width="1.0"/>
<circle cx="234.5" cy="126.8" r="2.6" fill="none" stroke="#294a8c" stroke-width="1.0"/>
<circle cx="239.4" cy="127.9" r="2.6" fill="none" stroke="#294a8c" stroke-width="1.0"/>
<circle cx="243.8" cy="128.4" r="2.6" fill="none" stroke="#294a8c" stroke-width="1.0"/>
<circle cx="237.2" cy="138.8" r="2.6" fill="none" stroke="#294a8c" stroke-width="1.0"/>
<circle cx="241.4" cy="138.8" r="2.6" fill="none" stroke="#294a8c" stroke-width="1.0"/>
<path d="M262.3 139.5V150.5M259.2 139.5H265.4M259.2 150.5H265.4" stroke="#b1173f" stroke-width="1" fill="none"/>
<path d="M255.7 144.2H268.9" stroke="#b1173f" stroke-width="1.3" fill="none"/>
<path d="M262.3 134.6L265.3 139.5L259.3 139.5Z" fill="none" stroke="#b1173f" stroke-width="1.0" stroke-linejoin="miter"/>
<path d="M258.8 140.8L261.8 145.7L255.8 145.7Z" fill="none" stroke="#b1173f" stroke-width="1.0" stroke-linejoin="miter"/>
<path d="M266.8 142L269.8 146.9L263.8 146.9Z" fill="none" stroke="#b1173f" stroke-width="1.0" stroke-linejoin="miter"/>
<path d="M262.3 150.9L265.3 155.8L259.3 155.8Z" fill="none" stroke="#b1173f" stroke-width="1.0" stroke-linejoin="miter"/>
<path d="M278 71V106.5M274.9 71H281.1M274.9 106.5H281.1" stroke="#294a8c" stroke-width="1" fill="none"/>
<path d="M271.4 88.6H284.6" stroke="#294a8c" stroke-width="1.3" fill="none"/>
<path d="M278 66.3L281 71.2L275 71.2Z" fill="none" stroke="#294a8c" stroke-width="1.0" stroke-linejoin="miter"/>
<path d="M278 91.8L281 96.7L275 96.7Z" fill="none" stroke="#294a8c" stroke-width="1.0" stroke-linejoin="miter"/>
<path d="M278 101.1L281 106L275 106Z" fill="none" stroke="#294a8c" stroke-width="1.0" stroke-linejoin="miter"/>
<path d="M301.3 140.3V159.5M298.2 140.3H304.4M298.2 159.5H304.4" stroke="#b1173f" stroke-width="1" fill="none"/>
<path d="M294.7 150.3H307.9" stroke="#b1173f" stroke-width="1.3" fill="none"/>
<rect x="298.8" y="133.3" width="5" height="5" fill="none" stroke="#b1173f" stroke-width="1.0"/>
<rect x="294.6" y="149.6" width="5" height="5" fill="none" stroke="#b1173f" stroke-width="1.0"/>
<rect x="303.4" y="152.3" width="5" height="5" fill="none" stroke="#b1173f" stroke-width="1.0"/>
<rect x="298.8" y="156.9" width="5" height="5" fill="none" stroke="#b1173f" stroke-width="1.0"/>
<path d="M317.4 117.5V147.7M314.3 117.5H320.5M314.3 147.7H320.5" stroke="#294a8c" stroke-width="1" fill="none"/>
<path d="M310.8 132.7H324" stroke="#294a8c" stroke-width="1.3" fill="none"/>
<rect x="314.9" y="104.6" width="5" height="5" fill="none" stroke="#294a8c" stroke-width="1.0"/>
<rect x="318.5" y="129.7" width="5" height="5" fill="none" stroke="#294a8c" stroke-width="1.0"/>
<rect x="310.6" y="133.6" width="5" height="5" fill="none" stroke="#294a8c" stroke-width="1.0"/>
<rect x="311" y="142.1" width="5" height="5" fill="none" stroke="#294a8c" stroke-width="1.0"/>
<rect x="318.7" y="141.6" width="5" height="5" fill="none" stroke="#294a8c" stroke-width="1.0"/>
<path d="M401 115.7V147M397.9 115.7H404.1M397.9 147H404.1" stroke="#b1173f" stroke-width="1" fill="none"/>
<path d="M394.4 131.1H407.6" stroke="#b1173f" stroke-width="1.3" fill="none"/>
<circle cx="401" cy="101.4" r="2.6" fill="none" stroke="#b1173f" stroke-width="1.0"/>
<circle cx="405" cy="124.2" r="2.6" fill="none" stroke="#b1173f" stroke-width="1.0"/>
<circle cx="396.9" cy="128.2" r="2.6" fill="none" stroke="#b1173f" stroke-width="1.0"/>
<circle cx="401" cy="130.3" r="2.6" fill="none" stroke="#b1173f" stroke-width="1.0"/>
<circle cx="405.7" cy="132.4" r="2.6" fill="none" stroke="#b1173f" stroke-width="1.0"/>
<circle cx="401" cy="136" r="2.6" fill="none" stroke="#b1173f" stroke-width="1.0"/>
<circle cx="401" cy="147.4" r="2.6" fill="none" stroke="#b1173f" stroke-width="1.0"/>
<circle cx="401" cy="153.4" r="2.6" fill="none" stroke="#b1173f" stroke-width="1.0"/>
<path d="M416.8 62.2V104.1M413.7 62.2H419.9M413.7 104.1H419.9" stroke="#294a8c" stroke-width="1" fill="none"/>
<path d="M410.2 83.1H423.4" stroke="#294a8c" stroke-width="1.3" fill="none"/>
<circle cx="416.8" cy="57.1" r="2.6" fill="none" stroke="#294a8c" stroke-width="1.0"/>
<circle cx="416.8" cy="65.1" r="2.6" fill="none" stroke="#294a8c" stroke-width="1.0"/>
<circle cx="412.6" cy="68.1" r="2.6" fill="none" stroke="#294a8c" stroke-width="1.0"/>
<circle cx="416.8" cy="71.3" r="2.6" fill="none" stroke="#294a8c" stroke-width="1.0"/>
<circle cx="421.2" cy="72" r="2.6" fill="none" stroke="#294a8c" stroke-width="1.0"/>
<circle cx="412.6" cy="73.8" r="2.6" fill="none" stroke="#294a8c" stroke-width="1.0"/>
<circle cx="416.8" cy="90.2" r="2.6" fill="none" stroke="#294a8c" stroke-width="1.0"/>
<circle cx="416.8" cy="101.3" r="2.6" fill="none" stroke="#294a8c" stroke-width="1.0"/>
<circle cx="416.8" cy="108.6" r="2.6" fill="none" stroke="#294a8c" stroke-width="1.0"/>
<circle cx="416.8" cy="120.3" r="2.6" fill="none" stroke="#294a8c" stroke-width="1.0"/>
<path d="M440.1 121V146.4M437 121H443.2M437 146.4H443.2" stroke="#b1173f" stroke-width="1" fill="none"/>
<path d="M433.5 136.1H446.7" stroke="#b1173f" stroke-width="1.3" fill="none"/>
<path d="M440.1 116.6L443.1 121.5L437.1 121.5Z" fill="none" stroke="#b1173f" stroke-width="1.0" stroke-linejoin="miter"/>
<path d="M436.6 133L439.6 137.9L433.6 137.9Z" fill="none" stroke="#b1173f" stroke-width="1.0" stroke-linejoin="miter"/>
<path d="M444.4 135.2L447.4 140.1L441.4 140.1Z" fill="none" stroke="#b1173f" stroke-width="1.0" stroke-linejoin="miter"/>
<path d="M440.1 145.2L443.1 150.1L437.1 150.1Z" fill="none" stroke="#b1173f" stroke-width="1.0" stroke-linejoin="miter"/>
<path d="M455.8 73.4V78.1M452.7 73.4H458.9M452.7 78.1H458.9" stroke="#294a8c" stroke-width="1" fill="none"/>
<path d="M449.2 75.8H462.4" stroke="#294a8c" stroke-width="1.3" fill="none"/>
<path d="M455.8 68L458.8 72.9L452.8 72.9Z" fill="none" stroke="#294a8c" stroke-width="1.0" stroke-linejoin="miter"/>
<path d="M455.8 73.3L458.8 78.2L452.8 78.2Z" fill="none" stroke="#294a8c" stroke-width="1.0" stroke-linejoin="miter"/>
<path d="M455.8 79.4L458.8 84.3L452.8 84.3Z" fill="none" stroke="#294a8c" stroke-width="1.0" stroke-linejoin="miter"/>
<path d="M479.3 107.5V148.3M476.2 107.5H482.4M476.2 148.3H482.4" stroke="#b1173f" stroke-width="1" fill="none"/>
<path d="M472.7 127.9H485.9" stroke="#b1173f" stroke-width="1.3" fill="none"/>
<rect x="476.8" y="95" width="5" height="5" fill="none" stroke="#b1173f" stroke-width="1.0"/>
<rect x="472.8" y="131.8" width="5" height="5" fill="none" stroke="#b1173f" stroke-width="1.0"/>
<rect x="472.8" y="137.5" width="5" height="5" fill="none" stroke="#b1173f" stroke-width="1.0"/>
<rect x="480.6" y="136.1" width="5" height="5" fill="none" stroke="#b1173f" stroke-width="1.0"/>
<path d="M494.9 89.5V123.9M491.8 89.5H498M491.8 123.9H498" stroke="#294a8c" stroke-width="1" fill="none"/>
<path d="M488.3 106.8H501.5" stroke="#294a8c" stroke-width="1.3" fill="none"/>
<rect x="492.4" y="83.9" width="5" height="5" fill="none" stroke="#294a8c" stroke-width="1.0"/>
<rect x="492.4" y="88.9" width="5" height="5" fill="none" stroke="#294a8c" stroke-width="1.0"/>
<rect x="488.4" y="106.8" width="5" height="5" fill="none" stroke="#294a8c" stroke-width="1.0"/>
<rect x="496.7" y="112.3" width="5" height="5" fill="none" stroke="#294a8c" stroke-width="1.0"/>
<rect x="492.8" y="126.5" width="5" height="5" fill="none" stroke="#294a8c" stroke-width="1.0"/>
<path d="M49.2 265.4V290.7M46.1 265.4H52.3M46.1 290.7H52.3" stroke="#b1173f" stroke-width="1" fill="none"/>
<path d="M42.6 278.1H55.8" stroke="#b1173f" stroke-width="1.3" fill="none"/>
<circle cx="49.4" cy="263.3" r="2.6" fill="none" stroke="#b1173f" stroke-width="1.0"/>
<circle cx="53.6" cy="263.8" r="2.6" fill="none" stroke="#b1173f" stroke-width="1.0"/>
<circle cx="44.8" cy="268.5" r="2.6" fill="none" stroke="#b1173f" stroke-width="1.0"/>
<circle cx="49.2" cy="270.1" r="2.6" fill="none" stroke="#b1173f" stroke-width="1.0"/>
<circle cx="49.2" cy="277.3" r="2.6" fill="none" stroke="#b1173f" stroke-width="1.0"/>
<circle cx="49.2" cy="290.2" r="2.6" fill="none" stroke="#b1173f" stroke-width="1.0"/>
<circle cx="45.3" cy="296.4" r="2.6" fill="none" stroke="#b1173f" stroke-width="1.0"/>
<circle cx="53.4" cy="294.9" r="2.6" fill="none" stroke="#b1173f" stroke-width="1.0"/>
<path d="M64.8 287.7V311.5M61.7 287.7H67.9M61.7 311.5H67.9" stroke="#294a8c" stroke-width="1" fill="none"/>
<path d="M58.2 300.6H71.4" stroke="#294a8c" stroke-width="1.3" fill="none"/>
<circle cx="62.9" cy="281" r="2.6" fill="none" stroke="#294a8c" stroke-width="1.0"/>
<circle cx="65.2" cy="282.2" r="2.6" fill="none" stroke="#294a8c" stroke-width="1.0"/>
<circle cx="64.8" cy="289.7" r="2.6" fill="none" stroke="#294a8c" stroke-width="1.0"/>
<circle cx="60.3" cy="299.5" r="2.6" fill="none" stroke="#294a8c" stroke-width="1.0"/>
<circle cx="64.5" cy="300.1" r="2.6" fill="none" stroke="#294a8c" stroke-width="1.0"/>
<circle cx="69.2" cy="300.6" r="2.6" fill="none" stroke="#294a8c" stroke-width="1.0"/>
<circle cx="62.4" cy="303.2" r="2.6" fill="none" stroke="#294a8c" stroke-width="1.0"/>
<circle cx="67.1" cy="304.2" r="2.6" fill="none" stroke="#294a8c" stroke-width="1.0"/>
<circle cx="64.8" cy="309.9" r="2.6" fill="none" stroke="#294a8c" stroke-width="1.0"/>
<circle cx="64.8" cy="316.7" r="2.6" fill="none" stroke="#294a8c" stroke-width="1.0"/>
<path d="M88.3 254.7V270.6M85.2 254.7H91.4M85.2 270.6H91.4" stroke="#b1173f" stroke-width="1" fill="none"/>
<path d="M81.7 262H94.9" stroke="#b1173f" stroke-width="1.3" fill="none"/>
<path d="M92.4 252.5L95.4 257.4L89.4 257.4Z" fill="none" stroke="#b1173f" stroke-width="1.0" stroke-linejoin="miter"/>
<path d="M84.1 257.2L87.1 262.1L81.1 262.1Z" fill="none" stroke="#b1173f" stroke-width="1.0" stroke-linejoin="miter"/>
<path d="M92.4 262.2L95.4 267.1L89.4 267.1Z" fill="none" stroke="#b1173f" stroke-width="1.0" stroke-linejoin="miter"/>
<path d="M88.3 271.7L91.3 276.6L85.3 276.6Z" fill="none" stroke="#b1173f" stroke-width="1.0" stroke-linejoin="miter"/>
<path d="M104 307.3V336M100.9 307.3H107.1M100.9 336H107.1" stroke="#294a8c" stroke-width="1" fill="none"/>
<path d="M97.4 321.9H110.6" stroke="#294a8c" stroke-width="1.3" fill="none"/>
<path d="M99.4 309.4L102.4 314.3L96.4 314.3Z" fill="none" stroke="#294a8c" stroke-width="1.0" stroke-linejoin="miter"/>
<path d="M108.3 312.4L111.3 317.3L105.3 317.3Z" fill="none" stroke="#294a8c" stroke-width="1.0" stroke-linejoin="miter"/>
<path d="M104 336L107 340.9L101 340.9Z" fill="none" stroke="#294a8c" stroke-width="1.0" stroke-linejoin="miter"/>
<path d="M126.7 284.2V297.3M123.6 284.2H129.8M123.6 297.3H129.8" stroke="#b1173f" stroke-width="1" fill="none"/>
<path d="M120.1 291.1H133.3" stroke="#b1173f" stroke-width="1.3" fill="none"/>
<rect x="128.9" y="281.4" width="5" height="5" fill="none" stroke="#b1173f" stroke-width="1.0"/>
<rect x="120.5" y="285.5" width="5" height="5" fill="none" stroke="#b1173f" stroke-width="1.0"/>
<rect x="128.3" y="291.8" width="5" height="5" fill="none" stroke="#b1173f" stroke-width="1.0"/>
<rect x="120.5" y="295.8" width="5" height="5" fill="none" stroke="#b1173f" stroke-width="1.0"/>
<path d="M144.4 288.4V297.6M141.3 288.4H147.5M141.3 297.6H147.5" stroke="#294a8c" stroke-width="1" fill="none"/>
<path d="M137.8 293H151" stroke="#294a8c" stroke-width="1.3" fill="none"/>
<rect x="137.4" y="282.9" width="5" height="5" fill="none" stroke="#294a8c" stroke-width="1.0"/>
<rect x="142" y="285.9" width="5" height="5" fill="none" stroke="#294a8c" stroke-width="1.0"/>
<rect x="142" y="292.5" width="5" height="5" fill="none" stroke="#294a8c" stroke-width="1.0"/>
<rect x="137.4" y="295.1" width="5" height="5" fill="none" stroke="#294a8c" stroke-width="1.0"/>
<rect x="145.8" y="295.1" width="5" height="5" fill="none" stroke="#294a8c" stroke-width="1.0"/>
<path d="M222.7 259.7V298.6M219.6 259.7H225.8M219.6 298.6H225.8" stroke="#b1173f" stroke-width="1" fill="none"/>
<path d="M216.1 279.6H229.3" stroke="#b1173f" stroke-width="1.3" fill="none"/>
<circle cx="218.3" cy="260.7" r="2.6" fill="none" stroke="#b1173f" stroke-width="1.0"/>
<circle cx="226.6" cy="260.7" r="2.6" fill="none" stroke="#b1173f" stroke-width="1.0"/>
<circle cx="218.3" cy="268.5" r="2.6" fill="none" stroke="#b1173f" stroke-width="1.0"/>
<circle cx="226.8" cy="266.9" r="2.6" fill="none" stroke="#b1173f" stroke-width="1.0"/>
<circle cx="226.6" cy="282.5" r="2.6" fill="none" stroke="#b1173f" stroke-width="1.0"/>
<circle cx="218.3" cy="285.1" r="2.6" fill="none" stroke="#b1173f" stroke-width="1.0"/>
<circle cx="222.7" cy="290.3" r="2.6" fill="none" stroke="#b1173f" stroke-width="1.0"/>
<circle cx="222.5" cy="319" r="2.6" fill="none" stroke="#b1173f" stroke-width="1.0"/>
<path d="M238.5 287.4V313.5M235.4 287.4H241.6M235.4 313.5H241.6" stroke="#294a8c" stroke-width="1" fill="none"/>
<path d="M231.9 300.4H245.1" stroke="#294a8c" stroke-width="1.3" fill="none"/>
<circle cx="240.2" cy="283" r="2.6" fill="none" stroke="#294a8c" stroke-width="1.0"/>
<circle cx="235.6" cy="286.7" r="2.6" fill="none" stroke="#294a8c" stroke-width="1.0"/>
<circle cx="242.4" cy="294.2" r="2.6" fill="none" stroke="#294a8c" stroke-width="1.0"/>
<circle cx="233.7" cy="296.7" r="2.6" fill="none" stroke="#294a8c" stroke-width="1.0"/>
<circle cx="238.1" cy="296.7" r="2.6" fill="none" stroke="#294a8c" stroke-width="1.0"/>
<circle cx="242.4" cy="300.4" r="2.6" fill="none" stroke="#294a8c" stroke-width="1.0"/>
<circle cx="236" cy="300" r="2.6" fill="none" stroke="#294a8c" stroke-width="1.0"/>
<circle cx="236.2" cy="312.3" r="2.6" fill="none" stroke="#294a8c" stroke-width="1.0"/>
<circle cx="240" cy="316" r="2.6" fill="none" stroke="#294a8c" stroke-width="1.0"/>
<circle cx="238.1" cy="321.6" r="2.6" fill="none" stroke="#294a8c" stroke-width="1.0"/>
<path d="M261.2 256.4V283M258.1 256.4H264.3M258.1 283H264.3" stroke="#b1173f" stroke-width="1" fill="none"/>
<path d="M254.6 269.6H267.8" stroke="#b1173f" stroke-width="1.3" fill="none"/>
<path d="M261.2 251.8L264.2 256.7L258.2 256.7Z" fill="none" stroke="#b1173f" stroke-width="1.0" stroke-linejoin="miter"/>
<path d="M261.2 261.3L264.2 266.2L258.2 266.2Z" fill="none" stroke="#b1173f" stroke-width="1.0" stroke-linejoin="miter"/>
<path d="M261.2 273.7L264.2 278.6L258.2 278.6Z" fill="none" stroke="#b1173f" stroke-width="1.0" stroke-linejoin="miter"/>
<path d="M261.2 282.6L264.2 287.5L258.2 287.5Z" fill="none" stroke="#b1173f" stroke-width="1.0" stroke-linejoin="miter"/>
<path d="M277.5 311V337.25M274.4 311H280.6M274.4 337.25H280.6" stroke="#294a8c" stroke-width="1" fill="none"/>
<path d="M270.9 324.75H284.1" stroke="#294a8c" stroke-width="1.3" fill="none"/>
<path d="M273 314.05L276 318.95L270 318.95Z" fill="none" stroke="#294a8c" stroke-width="1.0" stroke-linejoin="miter"/>
<path d="M281.25 314.8L284.25 319.7L278.25 319.7Z" fill="none" stroke="#294a8c" stroke-width="1.0" stroke-linejoin="miter"/>
<path d="M277.5 337.8L280.5 342.7L274.5 342.7Z" fill="none" stroke="#294a8c" stroke-width="1.0" stroke-linejoin="miter"/>
<path d="M300.5 271.4V296.5M297.4 271.4H303.6M297.4 296.5H303.6" stroke="#b1173f" stroke-width="1" fill="none"/>
<path d="M293.9 284.9H307.1" stroke="#b1173f" stroke-width="1.3" fill="none"/>
<rect x="298" y="265.8" width="5" height="5" fill="none" stroke="#b1173f" stroke-width="1.0"/>
<rect x="298" y="278.3" width="5" height="5" fill="none" stroke="#b1173f" stroke-width="1.0"/>
<rect x="298" y="289.2" width="5" height="5" fill="none" stroke="#b1173f" stroke-width="1.0"/>
<rect x="298" y="293.3" width="5" height="5" fill="none" stroke="#b1173f" stroke-width="1.0"/>
<path d="M317.1 273.5V282M314 273.5H320.2M314 282H320.2" stroke="#294a8c" stroke-width="1" fill="none"/>
<path d="M310.5 277.7H323.7" stroke="#294a8c" stroke-width="1.3" fill="none"/>
<rect x="309.4" y="270.5" width="5" height="5" fill="none" stroke="#294a8c" stroke-width="1.0"/>
<rect x="318.2" y="270.5" width="5" height="5" fill="none" stroke="#294a8c" stroke-width="1.0"/>
<rect x="313.5" y="273.1" width="5" height="5" fill="none" stroke="#294a8c" stroke-width="1.0"/>
<rect x="318.2" y="277.2" width="5" height="5" fill="none" stroke="#294a8c" stroke-width="1.0"/>
<rect x="309.4" y="282.4" width="5" height="5" fill="none" stroke="#294a8c" stroke-width="1.0"/>
<path d="M400.9 258V275M397.8 258H404M397.8 275H404" stroke="#b1173f" stroke-width="1" fill="none"/>
<path d="M394.3 266.6H407.5" stroke="#b1173f" stroke-width="1.3" fill="none"/>
<circle cx="405.3" cy="253" r="2.6" fill="none" stroke="#b1173f" stroke-width="1.0"/>
<circle cx="400.6" cy="256.5" r="2.6" fill="none" stroke="#b1173f" stroke-width="1.0"/>
<circle cx="404.8" cy="262.7" r="2.6" fill="none" stroke="#b1173f" stroke-width="1.0"/>
<circle cx="396.5" cy="266.6" r="2.6" fill="none" stroke="#b1173f" stroke-width="1.0"/>
<circle cx="400.9" cy="265.5" r="2.6" fill="none" stroke="#b1173f" stroke-width="1.0"/>
<circle cx="404.8" cy="268.9" r="2.6" fill="none" stroke="#b1173f" stroke-width="1.0"/>
<circle cx="399" cy="275.2" r="2.6" fill="none" stroke="#b1173f" stroke-width="1.0"/>
<circle cx="403.7" cy="275.2" r="2.6" fill="none" stroke="#b1173f" stroke-width="1.0"/>
<path d="M416.8 270.5V288.3M413.7 270.5H419.9M413.7 288.3H419.9" stroke="#294a8c" stroke-width="1" fill="none"/>
<path d="M410.2 280.1H423.4" stroke="#294a8c" stroke-width="1.3" fill="none"/>
<circle cx="416.8" cy="258.8" r="2.6" fill="none" stroke="#294a8c" stroke-width="1.0"/>
<circle cx="416.8" cy="266.9" r="2.6" fill="none" stroke="#294a8c" stroke-width="1.0"/>
<circle cx="416.9" cy="275.1" r="2.6" fill="none" stroke="#294a8c" stroke-width="1.0"/>
<circle cx="414.1" cy="282.1" r="2.6" fill="none" stroke="#294a8c" stroke-width="1.0"/>
<circle cx="419.6" cy="282.3" r="2.6" fill="none" stroke="#294a8c" stroke-width="1.0"/>
<circle cx="413" cy="283.6" r="2.6" fill="none" stroke="#294a8c" stroke-width="1.0"/>
<circle cx="420.8" cy="283.6" r="2.6" fill="none" stroke="#294a8c" stroke-width="1.0"/>
<circle cx="416.5" cy="284.8" r="2.6" fill="none" stroke="#294a8c" stroke-width="1.0"/>
<circle cx="415.3" cy="292.8" r="2.6" fill="none" stroke="#294a8c" stroke-width="1.0"/>
<circle cx="418.4" cy="292.8" r="2.6" fill="none" stroke="#294a8c" stroke-width="1.0"/>
<path d="M440.3 265.1V280.1M437.2 265.1H443.4M437.2 280.1H443.4" stroke="#b1173f" stroke-width="1" fill="none"/>
<path d="M433.7 272.3H446.9" stroke="#b1173f" stroke-width="1.3" fill="none"/>
<path d="M444.6 261.3L447.6 266.2L441.6 266.2Z" fill="none" stroke="#b1173f" stroke-width="1.0" stroke-linejoin="miter"/>
<path d="M436.1 264.4L439.1 269.3L433.1 269.3Z" fill="none" stroke="#b1173f" stroke-width="1.0" stroke-linejoin="miter"/>
<path d="M436.1 276.9L439.1 281.8L433.1 281.8Z" fill="none" stroke="#b1173f" stroke-width="1.0" stroke-linejoin="miter"/>
<path d="M444.6 276.9L447.6 281.8L441.6 281.8Z" fill="none" stroke="#b1173f" stroke-width="1.0" stroke-linejoin="miter"/>
<path d="M455.8 288.5V296.5M452.7 288.5H458.9M452.7 296.5H458.9" stroke="#294a8c" stroke-width="1" fill="none"/>
<path d="M449.2 292.8H462.4" stroke="#294a8c" stroke-width="1.3" fill="none"/>
<path d="M455.8 285.7L458.8 290.6L452.8 290.6Z" fill="none" stroke="#294a8c" stroke-width="1.0" stroke-linejoin="miter"/>
<path d="M451.7 293.5L454.7 298.4L448.7 298.4Z" fill="none" stroke="#294a8c" stroke-width="1.0" stroke-linejoin="miter"/>
<path d="M460.2 293.5L463.2 298.4L457.2 298.4Z" fill="none" stroke="#294a8c" stroke-width="1.0" stroke-linejoin="miter"/>
<path d="M479 243.3V286.9M475.9 243.3H482.1M475.9 286.9H482.1" stroke="#b1173f" stroke-width="1" fill="none"/>
<path d="M472.4 265.6H485.6" stroke="#b1173f" stroke-width="1.3" fill="none"/>
<rect x="472.9" y="246.8" width="5" height="5" fill="none" stroke="#b1173f" stroke-width="1.0"/>
<rect x="480.6" y="246.5" width="5" height="5" fill="none" stroke="#b1173f" stroke-width="1.0"/>
<rect x="476.5" y="265.5" width="5" height="5" fill="none" stroke="#b1173f" stroke-width="1.0"/>
<rect x="476.5" y="293.3" width="5" height="5" fill="none" stroke="#b1173f" stroke-width="1.0"/>
<path d="M494.9 242.1V311.25M491.8 242.1H498M491.8 311.25H498" stroke="#294a8c" stroke-width="1" fill="none"/>
<path d="M488.3 275.8H501.5" stroke="#294a8c" stroke-width="1.3" fill="none"/>
<rect x="492.4" y="251.2" width="5" height="5" fill="none" stroke="#294a8c" stroke-width="1.0"/>
<rect x="488.2" y="259.7" width="5" height="5" fill="none" stroke="#294a8c" stroke-width="1.0"/>
<rect x="496.5" y="260.3" width="5" height="5" fill="none" stroke="#294a8c" stroke-width="1.0"/>
<rect x="492.4" y="262.8" width="5" height="5" fill="none" stroke="#294a8c" stroke-width="1.0"/>
<rect x="492.7" y="335.8" width="5" height="5" fill="none" stroke="#294a8c" stroke-width="1.0"/>
<rect x="0.5" y="0.5" width="519" height="384" fill="none" stroke="#000" stroke-width="1.5"/>
</svg></body></html>
